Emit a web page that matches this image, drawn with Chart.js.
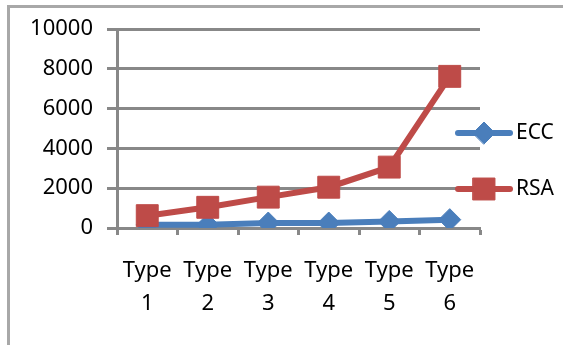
<!DOCTYPE html>
<html>
<head>
<meta charset="utf-8">
<script src="https://cdn.jsdelivr.net/npm/chart.js@4/dist/chart.umd.min.js"></script>
<style>
  html, body { margin: 0; padding: 0; background: #fff; }
  #wrap { position: relative; width: 563px; height: 345px; overflow: hidden; }
  #frame { position: absolute; left: 7px; top: 5px; width: 600px; height: 400px;
           border-top: 3px solid #a8a8a8; border-left: 3px solid #a8a8a8; }
  canvas { position: absolute; left: 0; top: 0; }
</style>
</head>
<body>
<div id="wrap">
  <div id="frame"></div>
  <canvas id="c" width="563" height="345"></canvas>
</div>
<script>
// Key types on the x axis
const categories = ['Type 1', 'Type 2', 'Type 3', 'Type 4', 'Type 5', 'Type 6'];
// Series values
const eccValues = [160, 160, 250, 250, 330, 420];
const rsaValues = [620, 1040, 1550, 2050, 3060, 7620];
// Y axis range and ticks
const yTicks = [0, 2000, 4000, 6000, 8000, 10000];

const FONT = '"Noto Sans", "Open Sans", sans-serif';
const BLUE = '#4A7EBB';
const RED = '#BE4B48';
const GRID = '#888888';

// Legend drawn to the right of the plot: line segment with marker, then label
const sideLegend = {
  id: 'sideLegend',
  afterDraw(chart) {
    const ctx = chart.ctx;
    const rows = [133, 189];
    ctx.save();
    chart.data.datasets.forEach((ds, i) => {
      const y = rows[i];
      ctx.strokeStyle = ds.borderColor;
      ctx.lineWidth = ds.borderWidth;
      ctx.lineCap = 'round';
      ctx.beginPath();
      ctx.moveTo(458, y);
      ctx.lineTo(510, y);
      ctx.stroke();
      ctx.fillStyle = ds.pointBackgroundColor;
      ctx.strokeStyle = ds.pointBorderColor;
      ctx.lineWidth = 1;
      Chart.helpers.drawPoint(ctx, { pointStyle: ds.pointStyle, radius: ds.pointRadius, rotation: 0, borderWidth: 1 }, 484, y);
      ctx.fillStyle = '#000';
      ctx.font = '21px ' + FONT;
      ctx.textBaseline = 'middle';
      ctx.textAlign = 'left';
      ctx.fillText(ds.label, 516, y);
    });
    ctx.restore();
  }
};

new Chart(document.getElementById('c'), {
  type: 'line',
  data: {
    labels: categories,
    datasets: [
      {
        label: 'ECC',
        data: eccValues,
        borderColor: BLUE,
        backgroundColor: BLUE,
        borderWidth: 6,
        pointStyle: 'rectRot',
        pointRadius: 11,
        pointHoverRadius: 11,
        pointBackgroundColor: BLUE,
        pointBorderColor: BLUE,
        pointBorderWidth: 1,
        tension: 0,
        order: 2
      },
      {
        label: 'RSA',
        data: rsaValues,
        borderColor: RED,
        backgroundColor: RED,
        borderWidth: 6,
        pointStyle: 'rect',
        pointRadius: 15.5,
        pointHoverRadius: 15.5,
        pointBackgroundColor: RED,
        pointBorderColor: RED,
        pointBorderWidth: 1,
        tension: 0,
        order: 1
      }
    ]
  },
  options: {
    responsive: false,
    animation: false,
    devicePixelRatio: 1,
    layout: { padding: { left: 0, top: 29, right: 83, bottom: 0 } },
    plugins: {
      legend: { display: false },
      tooltip: { enabled: false }
    },
    scales: {
      x: {
        offset: true,
        grid: {
          offset: true,
          drawOnChartArea: false,
          drawTicks: true,
          tickLength: 7,
          tickWidth: 3,
          tickColor: GRID
        },
        border: { display: true, color: GRID, width: 3 },
        ticks: {
          color: '#000',
          font: { family: FONT, size: 22, lineHeight: 1.5 },
          padding: 19,
          maxRotation: 0,
          autoSkip: false,
          callback: function (v, i) { return categories[i].split(' '); }
        },
        afterFit(scale) { scale.height = 117; }
      },
      y: {
        min: yTicks[0],
        max: yTicks[yTicks.length - 1],
        afterBuildTicks(scale) { scale.ticks = yTicks.map(v => ({ value: v })); },
        grid: {
          color: GRID,
          lineWidth: 3,
          drawTicks: true,
          tickLength: 10,
          tickColor: GRID
        },
        border: { display: true, color: GRID, width: 3 },
        ticks: {
          color: '#000',
          font: { family: FONT, size: 22 },
          padding: 14,
          callback: function (v) { return String(v); }
        },
        afterFit(scale) { scale.width = 117; }
      }
    }
  },
  plugins: [sideLegend]
});
</script>
</body>
</html>
